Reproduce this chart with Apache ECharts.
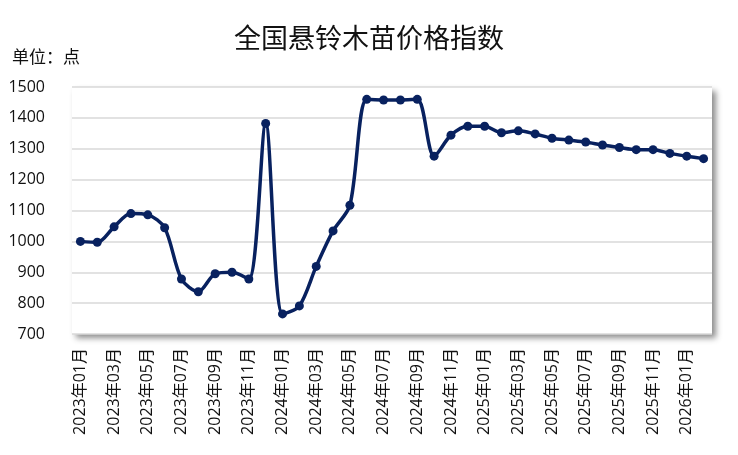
<!DOCTYPE html>
<html>
<head>
<meta charset="utf-8">
<script src="https://cdn.jsdelivr.net/npm/echarts@6/dist/echarts.min.js"></script>
<style>
  html, body { margin: 0; padding: 0; background: #fff; }
  #chart { width: 738px; height: 455px; }
</style>
</head>
<body>
<div id="chart"></div>
<script>
var months = [
  '2023年01月', '2023年02月', '2023年03月', '2023年04月', '2023年05月', '2023年06月',
  '2023年07月', '2023年08月', '2023年09月', '2023年10月', '2023年11月', '2023年12月',
  '2024年01月', '2024年02月', '2024年03月', '2024年04月', '2024年05月', '2024年06月',
  '2024年07月', '2024年08月', '2024年09月', '2024年10月', '2024年11月', '2024年12月',
  '2025年01月', '2025年02月', '2025年03月', '2025年04月', '2025年05月', '2025年06月',
  '2025年07月', '2025年08月', '2025年09月', '2025年10月', '2025年11月', '2025年12月',
  '2026年01月', '2026年02月'
]
var priceIndex = [
  1000, 997, 1047, 1090, 1086, 1044,
  878, 837, 895, 900, 878, 1382,
  765, 791, 919, 1034, 1117, 1460,
  1458, 1458, 1460, 1276, 1344, 1373,
  1373, 1352, 1358, 1348, 1334, 1328,
  1322, 1312, 1304, 1297, 1297, 1285,
  1276, 1268
]
var yMin = 700
var yMax = 1500
var yStep = 100

var font = "'Open Sans', 'Noto Sans CJK SC', sans-serif"
var chart = echarts.init(document.getElementById('chart'))

chart.setOption({
  animation: false,
  title: {
    text: '全国悬铃木苗价格指数',
    left: 'center',
    top: 22,
    textStyle: {
      fontFamily: font,
      fontSize: 27,
      fontWeight: 'normal',
      color: '#111'
    }
  },
  graphic: [
    {
      type: 'text',
      left: 12,
      top: 48,
      style: {
        text: '单位：点',
        font: "17px 'Noto Sans CJK SC', sans-serif",
        fill: '#111'
      }
    }
  ],
  grid: {
    show: true,
    left: 72,
    right: 26,
    top: 87,
    bottom: 121,
    backgroundColor: '#fff',
    borderWidth: 0,
    shadowColor: 'rgba(0,0,0,0.45)',
    shadowBlur: 6,
    shadowOffsetX: 4,
    shadowOffsetY: 4
  },
  xAxis: {
    type: 'category',
    data: months,
    boundaryGap: true,
    axisLine: { show: false },
    axisTick: { show: false },
    axisLabel: {
      interval: 1,
      rotate: 90,
      margin: 14,
      fontFamily: font,
      fontSize: 16,
      color: '#111'
    }
  },
  yAxis: {
    type: 'value',
    min: yMin,
    max: yMax,
    interval: yStep,
    axisLine: { show: false },
    axisTick: { show: false },
    axisLabel: {
      margin: 27,
      fontFamily: font,
      fontSize: 16,
      color: '#111',
      formatter: function (v) { return String(v) }
    },
    splitLine: {
      lineStyle: { color: '#d9d9d9', width: 1.5 }
    }
  },
  series: [
    {
      name: '全国悬铃木苗价格指数',
      type: 'line',
      data: priceIndex,
      smooth: 0.3,
      symbol: 'circle',
      symbolSize: 9,
      lineStyle: { color: '#08215f', width: 3.5 },
      itemStyle: { color: '#08215f' }
    }
  ]
})
</script>
</body>
</html>
